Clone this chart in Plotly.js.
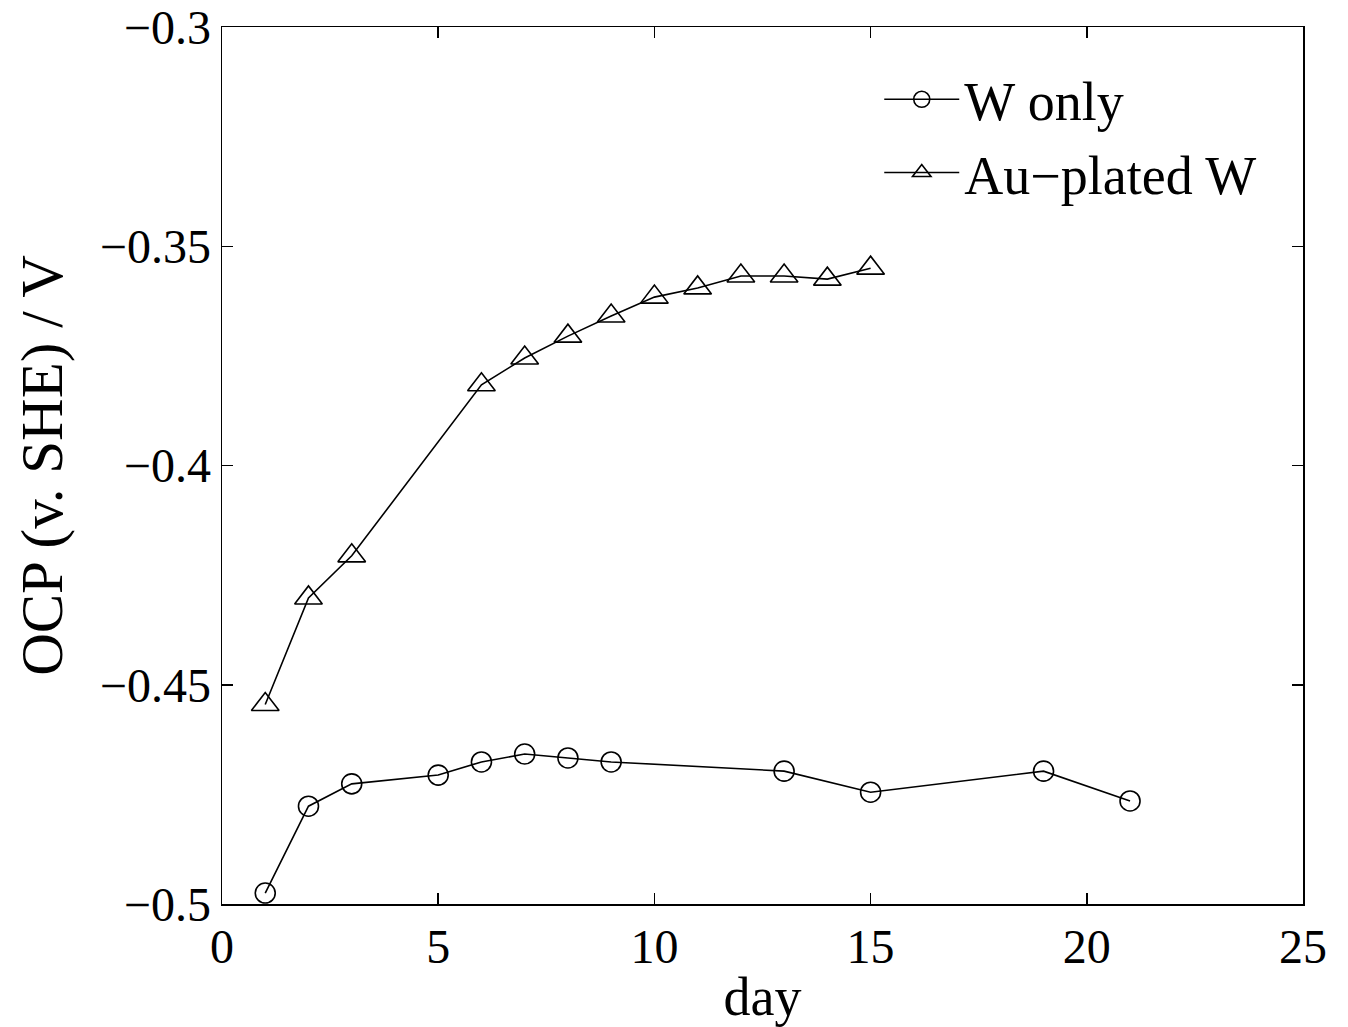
<!DOCTYPE html>
<html>
<head>
<meta charset="utf-8">
<script src="https://cdn.plot.ly/plotly-3.0.1.min.js"></script>
<style>html,body{margin:0;padding:0;background:#fff;}#chart{width:1348px;height:1027px;}</style>
</head>
<body>
<div id="chart"></div>
<script>
// Data
const wOnlyDays = [1, 2, 3, 5, 6, 7, 8, 9, 13, 15, 19, 21];
const wOnlyOCP  = [-0.4975, -0.4777, -0.4726, -0.4706, -0.4676, -0.4658, -0.4667, -0.4676, -0.4697, -0.4745, -0.4697, -0.4765];
const auDays = [1, 2, 3, 6, 7, 8, 9, 10, 11, 12, 13, 14, 15];
const auOCP  = [-0.4545, -0.4302, -0.4206, -0.3816, -0.3755, -0.3705, -0.3659, -0.3616, -0.3595, -0.3568, -0.3568, -0.3575, -0.3550];
const seriesNames = ["W only", "Au\u2212plated W"];
const xTicks = [0, 5, 10, 15, 20, 25];
const yTicks = [-0.5, -0.45, -0.4, -0.35, -0.3];

const font = "Liberation Serif, Times New Roman, serif";

const traces = [
  {
    x: wOnlyDays, y: wOnlyOCP, name: seriesNames[0], type: "scatter", mode: "lines+markers",
    line: {color: "#000", width: 1.6},
    marker: {symbol: "circle-open", size: 20, color: "#000", line: {width: 1.6, color: "#000"}}
  },
  {
    x: auDays, y: auOCP, name: seriesNames[1], type: "scatter", mode: "lines+markers",
    line: {color: "#000", width: 1.6},
    marker: {symbol: "triangle-up-open", size: 24, color: "#000", line: {width: 1.6, color: "#000"}}
  }
];

const axisCommon = {
  showgrid: false, zeroline: false, showline: true, linecolor: "#000", linewidth: 1.5,
  mirror: "ticks", ticks: "inside", ticklen: 11, tickwidth: 1.5, tickcolor: "#000",
  tickfont: {family: font, size: 48, color: "#000"}
};

const layout = {
  width: 1348, height: 1027,
  margin: {l: 222, r: 45, t: 27, b: 123},
  paper_bgcolor: "#fff", plot_bgcolor: "#fff",
  showlegend: true,
  legend: {
    x: 0.608, y: 0.965, xanchor: "left", yanchor: "top",
    bgcolor: "rgba(255,255,255,0)", borderwidth: 0,
    font: {family: font, size: 54, color: "#000"},
    tracegroupgap: 0, itemwidth: 75
  },
  xaxis: Object.assign({}, axisCommon, {
    range: [0, 25], tickvals: xTicks, ticktext: xTicks.map(String),
    title: {text: "day", font: {family: font, size: 54, color: "#000"}, standoff: 6}
  }),
  yaxis: Object.assign({}, axisCommon, {
    range: [-0.5, -0.3], tickvals: yTicks, ticktext: yTicks.map(v => "\u2212" + String(Math.abs(v))),
    title: {text: "OCP (v. SHE) / V", font: {family: font, size: 59, color: "#000"}, standoff: 18}
  })
};

Plotly.newPlot("chart", traces, layout, {displayModeBar: false, staticPlot: true});
</script>
</body>
</html>
